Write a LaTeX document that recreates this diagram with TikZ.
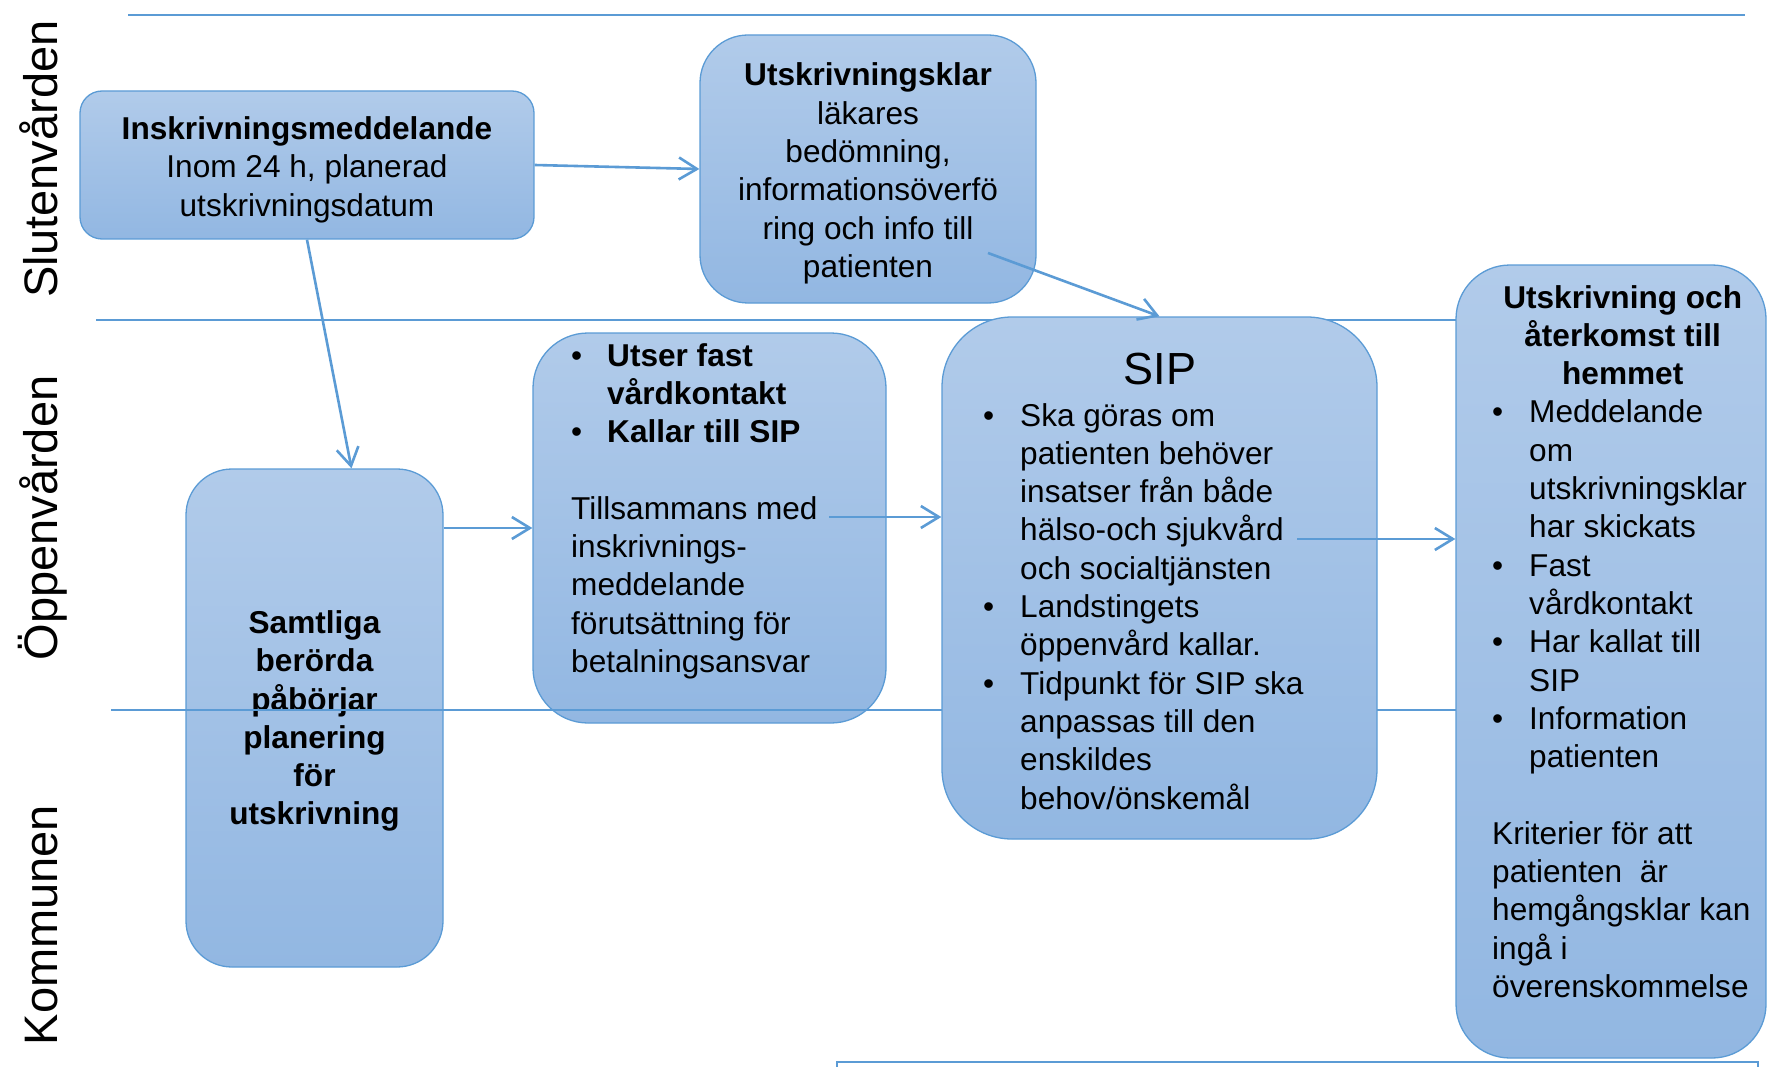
\documentclass[tikz,border=0pt]{standalone}
\usepackage{fontspec}
\setmainfont{Liberation Sans}
\usetikzlibrary{calc,arrows.meta}
\definecolor{bla}{RGB}{91,155,213}
\definecolor{ljus}{RGB}{177,203,234}
\definecolor{mork}{RGB}{146,183,226}

\begin{document}
\begin{tikzpicture}[x=1pt,y=-1pt,
		ruta/.style={draw=bla,line width=1.3pt,top color=ljus,bottom color=mork,inner sep=0pt,align=center,font=\fontsize{31.6}{38.3}\selectfont},
		lista/.style={anchor=base west,inner sep=0pt,font=\fontsize{31.6}{38.3}\selectfont},
		bana/.style={rotate=90,anchor=base,inner sep=0pt,font=\fontsize{47}{56}\selectfont},
		linje/.style={bla,line width=1.8pt},
		pil/.style={bla,line width=2.6pt,-{Straight Barb[length=18pt,width=22pt]}}]
	\useasboundingbox (0,0) rectangle (1768,1067);
	
	\node[ruta,minimum width=454pt,minimum height=148pt,rounded corners=22pt] (insk) at (307,165) {\rule{0pt}{32pt}\textbf{Inskrivningsmeddelande}\\Inom 24 h, planerad\\utskrivningsdatum};
	\node[ruta,minimum width=336pt,minimum height=268pt,rounded corners=48pt] (utsk) at (868,169) {\rule{0pt}{32pt}\textbf{Utskrivningsklar}\\läkares\\bedömning,\\informationsöverfö\\ring och info till\\patienten};
	\node[ruta,minimum width=257pt,minimum height=498pt,rounded corners=46pt,font=\fontsize{31.6}{38.3}\selectfont\bfseries] (samt) at (314.5,718) {\rule{0pt}{29pt}Samtliga\\berörda\\påbörjar\\planering\\för\\utskrivning};
	\node[ruta,minimum width=353pt,minimum height=390pt,rounded corners=55pt] (utser) at (709.5,528) {};
	\node[lista] (utsertext) at (571,366) {\begin{tabular}[t]{@{}p{36pt}@{}l@{}}
		\textbullet & \textbf{Utser fast}\\
		& \textbf{vårdkontakt}\\
		\textbullet & \textbf{Kallar till SIP}\\
		\\
		\multicolumn{2}{@{}l@{}}{Tillsammans med}\\
		\multicolumn{2}{@{}l@{}}{inskrivnings-}\\
		\multicolumn{2}{@{}l@{}}{meddelande}\\
		\multicolumn{2}{@{}l@{}}{förutsättning för}\\
		\multicolumn{2}{@{}l@{}}{betalningsansvar}
	\end{tabular}};
	
	\draw[linje](128,15) -- (1745,15);
	\draw[linje](96,320) -- (1500,320);
	\draw[linje](111,710) -- (1500,710);
	
	\node[ruta,minimum width=435pt,minimum height=522pt,rounded corners=70pt] (sip) at (1159.5,578) {};
	\node[ruta,minimum width=310pt,minimum height=793pt,rounded corners=54pt] (hem) at (1611,661.5) {};
	\node[anchor=base,inner sep=0pt,font=\fontsize{45}{54}\selectfont] (siptitel) at (1160,384) {SIP};
	\node[lista] (siptext) at (983,426) {\begin{tabular}[t]{@{}p{37pt}@{}l@{}}
		\textbullet & Ska göras om\\
		& patienten behöver\\
		& insatser från både\\
		& hälso-och sjukvård\\
		& och socialtjänsten\\
		\textbullet & Landstingets\\
		& öppenvård kallar.\\
		\textbullet & Tidpunkt för SIP ska\\
		& anpassas till den\\
		& enskildes\\
		& behov/önskemål
	\end{tabular}};
	\node[lista] (hemtext) at (1492,308) {\begin{tabular}[t]{@{}p{37pt}@{}p{224pt}@{}}
		\multicolumn{2}{@{}c@{}}{\textbf{Utskrivning och}}\\
		\multicolumn{2}{@{}c@{}}{\textbf{återkomst till}}\\
		\multicolumn{2}{@{}c@{}}{\textbf{hemmet}}\\
		\textbullet & Meddelande\\
		& om\\
		& utskrivningsklar\\
		& har skickats\\
		\textbullet & Fast\\
		& vårdkontakt\\
		\textbullet & Har kallat till\\
		& SIP\\
		\textbullet & Information\\
		& patienten\\
		\\
		\multicolumn{2}{@{}l@{}}{Kriterier för att}\\
		\multicolumn{2}{@{}l@{}}{patienten\ \ är}\\
		\multicolumn{2}{@{}l@{}}{hemgångsklar kan}\\
		\multicolumn{2}{@{}l@{}}{ingå i}\\
		\multicolumn{2}{@{}l@{}}{överenskommelse}
	\end{tabular}};
	
	\coordinate (med) at (829,517);
	\coordinate (till) at (988,253);
	\coordinate (sjukvard) at (1297,539);
	\draw[pil](insk.east) -- (utsk.west);
	\draw[pil](insk.south) -- ([xshift=37pt]samt.north);
	\draw[pil](samt.east |- utser.west) -- (utser.west);
	\draw[pil](till) -- (sip.north);
	\draw[pil](med) -- (med -| sip.west);
	\draw[pil](sjukvard) -- (sjukvard -| hem.west);
	
	\node[bana] (sluten) at (57,159) {Slutenvården};
	\node[bana] (oppen) at (57,518) {Öppenvården};
	\node[bana] (kommun) at (57,925) {Kommunen};
	
	\draw[bla,line width=2.7pt](837,1090) |- (1758,1062) -- (1758,1090);
\end{tikzpicture}
\end{document}
